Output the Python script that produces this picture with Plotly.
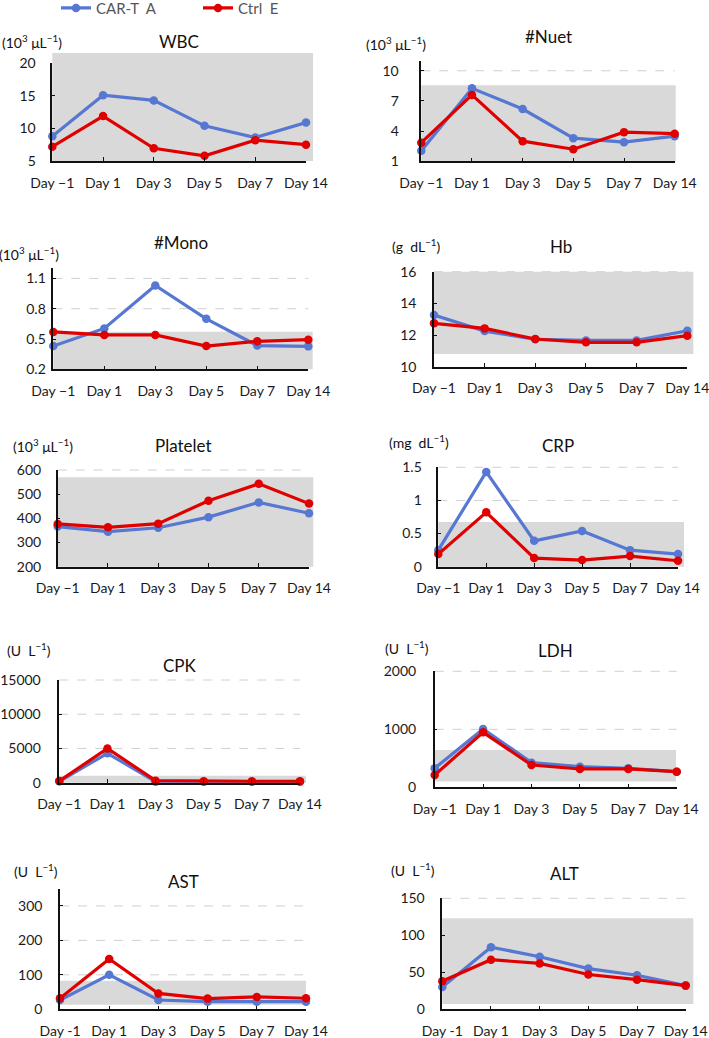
import plotly.graph_objects as go

# categories
days = ["Day \u22121", "Day 1", "Day 3", "Day 5", "Day 7", "Day 14"]
days_hyphen = ["Day -1", "Day 1", "Day 3", "Day 5", "Day 7", "Day 14"]

panel_titles = ["WBC", "#Nuet", "#Mono", "Hb", "Platelet", "CRP", "CPK", "LDH", "AST", "ALT"]
panel_units = ["(10<sup>3</sup> \u03bcL<sup>\u22121</sup>)", "(10<sup>3</sup> \u03bcL<sup>\u22121</sup>)",
               "(10<sup>3</sup> \u03bcL<sup>\u22121</sup>)", "(g\u00a0 dL<sup>\u22121</sup>)",
               "(10<sup>3</sup> \u03bcL<sup>\u22121</sup>)", "(mg\u00a0 dL<sup>\u22121</sup>)",
               "(U\u00a0 L<sup>\u22121</sup>)", "(U\u00a0 L<sup>\u22121</sup>)",
               "(U\u00a0 L<sup>\u22121</sup>)", "(U\u00a0 L<sup>\u22121</sup>)"]

# series values (CAR-T A / Ctrl E)
wbc_car = [8.8, 15.1, 14.3, 10.4, 8.6, 10.9]
wbc_ctrl = [7.2, 11.9, 6.95, 5.8, 8.2, 7.5]
nuet_car = [2.05, 8.25, 6.2, 3.3, 2.9, 3.5]
nuet_ctrl = [2.85, 7.6, 3.0, 2.2, 3.9, 3.75]
mono_car = [0.43, 0.605, 1.03, 0.70, 0.435, 0.427]
mono_ctrl = [0.57, 0.54, 0.54, 0.43, 0.477, 0.493]
hb_car = [13.26, 12.25, 11.73, 11.66, 11.66, 12.27]
hb_ctrl = [12.74, 12.42, 11.75, 11.54, 11.54, 11.96]
plt_car = [366, 345, 361, 405, 466, 421]
plt_ctrl = [377, 363, 378, 473, 543, 461]
crp_car = [0.25, 1.43, 0.39, 0.54, 0.25, 0.19]
crp_ctrl = [0.19, 0.82, 0.13, 0.10, 0.16, 0.09]
cpk_car = [200, 4300, 150, 150, 150, 150]
cpk_ctrl = [250, 5000, 300, 200, 200, 200]
ldh_car = [328, 1006, 425, 356, 328, 270]
ldh_ctrl = [213, 948, 385, 316, 316, 270]
ast_car = [27, 100, 27, 22, 22, 22]
ast_ctrl = [32, 146, 46, 31, 36, 32]
alt_car = [30, 84, 71, 55, 46, 32]
alt_ctrl = [38, 67, 62, 47, 40, 32]

car_series = [wbc_car, nuet_car, mono_car, hb_car, plt_car, crp_car, cpk_car, ldh_car, ast_car, alt_car]
ctrl_series = [wbc_ctrl, nuet_ctrl, mono_ctrl, hb_ctrl, plt_ctrl, crp_ctrl, cpk_ctrl, ldh_ctrl, ast_ctrl, alt_ctrl]

# axis ranges and ticks
y_min = [5, 1, 0.2, 10, 200, 0, 0, 0, 0, 0]
y_max = [20, 11, 1.2, 16, 600, 1.5, 15000, 2000, 350, 150]
y_ticks = [[5, 10, 15, 20], [1, 4, 7, 10], [0.2, 0.5, 0.8, 1.1], [10, 12, 14, 16],
           [200, 300, 400, 500, 600], [0, 0.5, 1, 1.5], [0, 5000, 10000, 15000],
           [0, 1000, 2000], [0, 100, 200, 300], [0, 50, 100, 150]]
y_ticktext = [None, None, None, None, None, ["0", "0.5", "1", "1.5"], None, None, None, None]

# reference (normal) range bands
band_low = [5, 1, 0.2, 10.8, 200, 0, 0, 100, 13, 7]
band_high = [21.6, 8.55, 0.572, 16.0, 570, 0.675, 1000, 645, 83, 123]

# layout geometry in pixels
W, H = 709, 1038
px_x0 = [52.3, 421.3, 53.3, 434, 57.7, 438.3, 59.3, 434.7, 60, 442.3]
px_x1 = [306, 674.7, 308.3, 687.3, 309, 678, 300, 676.7, 306, 685.7]
px_top = [63.3, 60.7, 268.3, 271.7, 470, 467.3, 680, 671.3, 888.7, 898.3]
px_bot = [161, 161.3, 369.3, 366.7, 566.7, 566.7, 782.7, 787.3, 1009.3, 1009.3]
px_band_right = [313, 675.7, 312.7, 693.3, 313.3, 684, 306, 676, 306, 693.3]
px_title_y = [41.7, 36.7, 242.3, 246.7, 445.7, 445, 665.7, 650, 881, 873.3]
px_unit = [(32, 41), (396, 43), (29, 253), (416, 245), (42.5, 445.7),
           (418.5, 441.7), (29, 649), (407, 647), (36, 870), (413, 869)]
y_standoff = [12, 18, 3, 13, 12, 12, 14, 14, 13, 13]

BLUE = "#5677D2"
RED = "#E10000"
FONT = "Lato"

fig = go.Figure()
layout = dict(
    template="none",
    width=W, height=H, margin=dict(l=0, r=0, t=0, b=0, autoexpand=False),
    paper_bgcolor="white", plot_bgcolor="rgba(0,0,0,0)",
    font=dict(family=FONT, size=14, color="#1a1a1a"),
    showlegend=True,
    legend=dict(orientation="h", x=56 / W, xanchor="left", y=1.008, yanchor="top",
                font=dict(size=15, color="#555"), entrywidth=97, bgcolor="rgba(0,0,0,0)",
                itemwidth=30),
)
shapes = []
annotations = []

for i in range(10):
    n = "" if i == 0 else str(i + 1)
    xa, ya = "x" + n, "y" + n
    cats = days_hyphen if i >= 8 else days
    span = y_max[i] - y_min[i]

    fig.add_trace(go.Scatter(x=cats, y=car_series[i], mode="lines+markers", name="CAR-T\u00a0 A",
                             line=dict(color=BLUE, width=3.2), marker=dict(size=8.5, color=BLUE),
                             xaxis=xa, yaxis=ya, showlegend=(i == 0), cliponaxis=False))
    fig.add_trace(go.Scatter(x=cats, y=ctrl_series[i], mode="lines+markers", name="Ctrl\u00a0 E",
                             line=dict(color=RED, width=3.2), marker=dict(size=8.5, color=RED),
                             xaxis=xa, yaxis=ya, showlegend=(i == 0), cliponaxis=False))

    layout["xaxis" + n] = dict(
        domain=[px_x0[i] / W, px_x1[i] / W], anchor=ya, type="category", automargin=False,
        categoryorder="array", categoryarray=cats, range=[0, 5],
        showline=True, linecolor="#111", linewidth=1.5, showgrid=False, zeroline=False,
        ticks="inside", ticklen=4, tickcolor="#111", tickwidth=1.2,
        tickfont=dict(size=14, color="#1a1a1a"), ticklabelstandoff=8, fixedrange=True,
    )
    layout["yaxis" + n] = dict(
        domain=[1 - px_bot[i] / H, 1 - px_top[i] / H], anchor=xa, automargin=False,
        range=[y_min[i], y_max[i]], tickvals=y_ticks[i], ticktext=y_ticktext[i],
        tickformat="d" if i == 6 else None,
        showline=True, linecolor="#111", linewidth=1.5, zeroline=False, showgrid=False,
        ticks="inside", ticklen=3, tickcolor="#111",
        tickfont=dict(size=14, color="#1a1a1a"), ticklabelstandoff=y_standoff[i], fixedrange=True,
    )

    # dashed gridlines, then the reference range band over them
    for t in y_ticks[i][1:]:
        yd = (t - y_min[i]) / span
        shapes.append(dict(type="line", xref=xa + " domain", yref=ya + " domain", layer="below",
                           x0=0, x1=1, y0=yd, y1=yd, line=dict(color="#D0D0D0", width=1, dash="dash")))
    shapes.append(dict(
        type="rect", xref=xa + " domain", yref=ya + " domain", layer="below",
        x0=0, x1=(px_band_right[i] - px_x0[i]) / (px_x1[i] - px_x0[i]),
        y0=(max(band_low[i], y_min[i]) - y_min[i]) / span, y1=(band_high[i] - y_min[i]) / span,
        fillcolor="#D9D9D9", line=dict(width=0),
    ))

    annotations.append(dict(text=panel_titles[i], xref=xa + " domain", x=0.5, yref="paper",
                            y=1 - px_title_y[i] / H, showarrow=False, xanchor="center",
                            yanchor="middle", font=dict(size=17, color="#111")))
    annotations.append(dict(text=panel_units[i], xref="paper", x=px_unit[i][0] / W, yref="paper",
                            y=1 - px_unit[i][1] / H, showarrow=False, xanchor="center",
                            yanchor="middle", font=dict(size=14, color="#111")))

layout["shapes"] = shapes
layout["annotations"] = annotations
fig.update_layout(**layout)

fig.write_html("out.html", config={"displayModeBar": False},
               post_script="document.body.style.margin='0px';")
